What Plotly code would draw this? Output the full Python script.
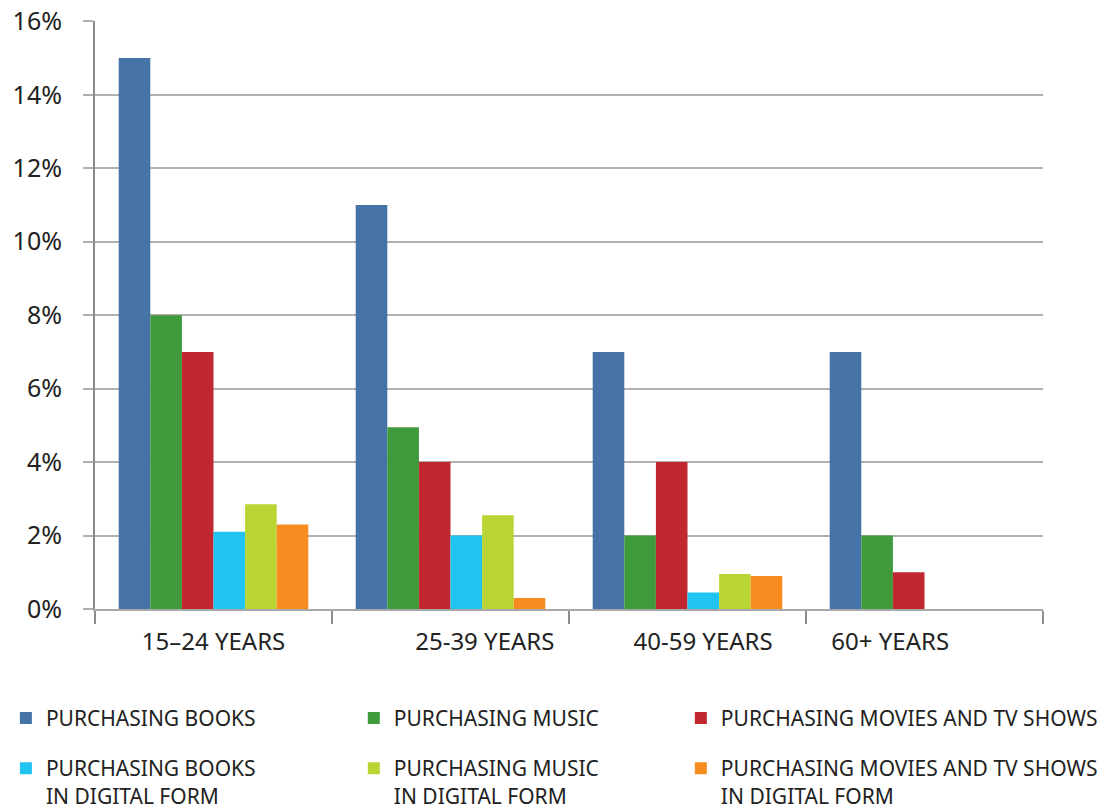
import plotly.graph_objects as go

# Age groups (tick labels padded with nbsp to sit where the original puts them)
age_groups = ["15–24 YEARS", "25–39 YEARS", "40–59 YEARS", "60+ YEARS"]
tick_labels = [
    "15–24 YEARS",
    "\u00a0" * 11 + "25-39 YEARS",
    "\u00a0" * 5 + "40-59 YEARS",
    "60+ YEARS" + "\u00a0" * 11,
]
y_ticks = [0, 0.02, 0.04, 0.06, 0.08, 0.10, 0.12, 0.14, 0.16]
y_labels = ["0%", "2%", "4%", "6%", "8%", "10%", "12%", "14%", "16%"]

books = [15, 11, 7, 7]
music = [8, 4.95, 2, 2]
movies = [7, 4, 4, 1]
books_digital = [2.1, 2.0, 0.45, 0]
music_digital = [2.85, 2.55, 0.95, 0]
movies_digital = [2.3, 0.3, 0.9, 0]

# name, values, colour, legend column
series = [
    ("PURCHASING BOOKS", books, "#4573a7", "legend"),
    ("PURCHASING MUSIC", music, "#3f9a3c", "legend2"),
    ("PURCHASING MOVIES AND TV SHOWS", movies, "#c0272f", "legend3"),
    ("PURCHASING BOOKS<br>IN DIGITAL FORM", books_digital, "#21c4f1", "legend"),
    ("PURCHASING MUSIC<br>IN DIGITAL FORM", music_digital, "#b9d534", "legend2"),
    ("PURCHASING MOVIES AND TV SHOWS<br>IN DIGITAL FORM", movies_digital, "#f68b1f", "legend3"),
]

fig = go.Figure()
for i, (name, vals, color, leg) in enumerate(series):
    fig.add_trace(go.Bar(x=age_groups, y=[v / 100 for v in vals], name=name,
                         legend=leg, legendgroup=f"g{i}",
                         marker=dict(color=color, line=dict(width=0))))

# one vertical legend per column
legend_common = dict(
    orientation="v",
    y=-0.151,
    xanchor="left", yanchor="top",
    valign="top",
    tracegroupgap=20,
    traceorder="grouped",
    font=dict(size=21, color="#222222"),
)

fig.update_layout(
    width=1110,
    height=798,
    barmode="group",
    bargap=0.2,
    bargroupgap=0,
    plot_bgcolor="#ffffff",
    paper_bgcolor="#ffffff",
    font=dict(family="Noto Sans", color="#222222"),
    margin={"t": 13, "l": 87, "r": 75, "b": 197, "autoexpand": False},
    legend=dict(x=-0.094, **legend_common),
    legend2=dict(x=0.273, **legend_common),
    legend3=dict(x=0.618, **legend_common),
    xaxis=dict(
        tickvals=age_groups,
        ticktext=tick_labels,
        tickson="boundaries",
        ticks="outside",
        ticklen=13,
        tickcolor="#8c8c8c",
        tickwidth=2,
        showline=True,
        linecolor="#a8a8a8",
        linewidth=2,
        tickfont=dict(size=24),
        ticklabelstandoff=10,
        showgrid=False,
    ),
    yaxis=dict(
        range=[0, 0.1601],
        tickvals=y_ticks,
        ticktext=y_labels,
        ticklabeloverflow="allow",
        gridcolor="#b0b0b0",
        gridwidth=2,
        showline=True,
        linecolor="#8c8c8c",
        linewidth=2,
        ticks="outside",
        ticklen=10,
        tickcolor="#b0b0b0",
        tickwidth=2,
        tickfont=dict(size=25),
        ticklabelstandoff=16,
        zeroline=False,
    ),
)

fig.write_html("out.html")
